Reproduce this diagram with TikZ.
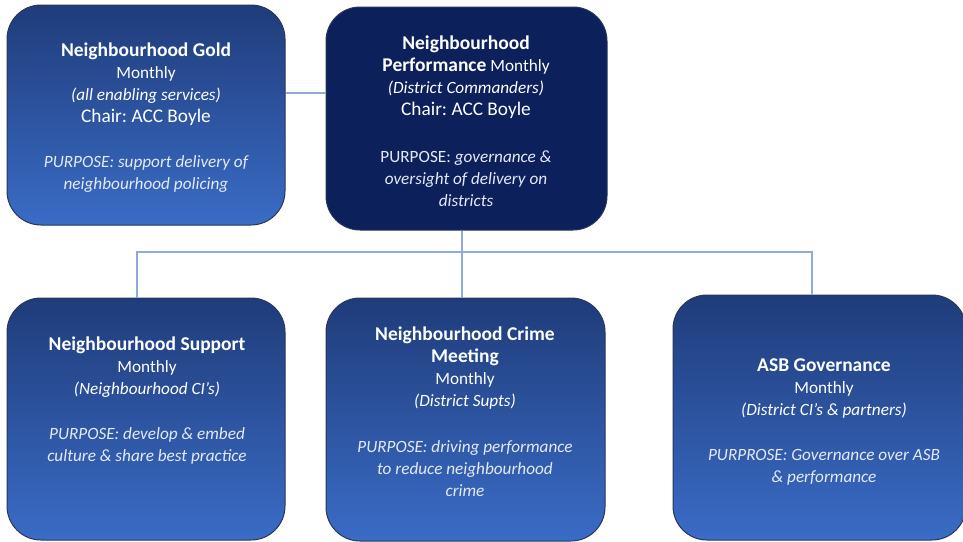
\documentclass[tikz,border=0pt]{standalone}
\usepackage{fontspec}
\setmainfont{Carlito}
\frenchspacing
\definecolor{boxtop}{RGB}{31,60,122}
\definecolor{boxbot}{RGB}{58,108,198}
\definecolor{navy}{RGB}{12,32,92}
\definecolor{edge}{RGB}{40,55,90}
\definecolor{connc}{RGB}{143,170,220}
\definecolor{soft}{RGB}{228,233,243}
\tikzset{
 boxbase/.style={draw=edge, line width=1pt, rounded corners=34pt, inner sep=0pt},
 gradbox/.style={boxbase, top color=boxtop, bottom color=boxbot},
 navybox/.style={boxbase, fill=navy},
 boxtext/.style={text=white, align=center, inner sep=0pt, font=\fontsize{17.2}{22}\selectfont},
 conn/.style={draw=connc, line width=1.2pt},
}
\newcommand{\ttlf}{\bfseries\fontsize{19.5}{22}\selectfont}
\newcommand{\chairf}{\fontsize{19.3}{22}\selectfont}
\newcommand{\purp}{\color{soft}\itshape}
\begin{document}
\begin{tikzpicture}[x=1pt,y=-1pt]
\useasboundingbox (0,0) rectangle (963,541);
\fill[white] (0,0) rectangle (963,541);
% boxes
\node[gradbox, minimum width=278pt, minimum height=220pt] (gold) at (146,115) {};
\node[navybox, minimum width=281pt, minimum height=223pt] (perf) at (466.5,118.5) {};
\node[gradbox, minimum width=278pt, minimum height=242pt] (support) at (146,419) {};
\node[gradbox, minimum width=279pt, minimum height=243pt] (crime) at (465.5,419.5) {};
\node[gradbox, minimum width=293pt, minimum height=245pt] (asb) at (819.5,417.5) {};
% connectors
\coordinate (hub) at (462,252);
\draw[conn] ([yshift=22pt]gold.east) -- ([yshift=22pt]gold.east -| perf.west);
\draw[conn] (perf.south -| hub) -- (hub);
\draw[conn] (hub) -| ([xshift=-9pt]support.north);
\draw[conn] (hub) -- (hub |- crime.north);
\draw[conn] (hub) -| ([xshift=-7.5pt]asb.north);
% texts
\node[boxtext] (goldT) at (146,117.5) {{\ttlf Neighbourhood Gold}\\ Monthly\\ \textit{(all enabling services)}\\ {\chairf Chair: ACC Boyle}\\[23pt] {\purp PURPOSE: support delivery of}\\ {\purp neighbourhood policing}};
\node[boxtext] (perfT) at (466,121) {{\ttlf Neighbourhood}\\ {\ttlf Performance} Monthly\\ \textit{(District Commanders)}\\ {\chairf Chair: ACC Boyle}\\[25pt] {\color{soft}PURPOSE: \textit{governance \&}}\\ {\purp oversight of delivery on}\\ {\purp districts}};
\node[boxtext] (supportT) at (147,401) {{\ttlf Neighbourhood Support}\\ Monthly\\ \textit{(Neighbourhood CI’s)}\\[23pt] {\purp PURPOSE: develop \& embed}\\ {\purp culture \& share best practice}};
\node[boxtext] (crimeT) at (465,412) {{\ttlf Neighbourhood Crime}\\ {\ttlf Meeting}\\ Monthly\\ \textit{(District Supts)}\\[24pt] {\purp PURPOSE: driving performance}\\ {\purp to reduce neighbourhood}\\ {\purp crime}};
\node[boxtext] (asbT) at (824,422) {{\ttlf ASB Governance}\\ Monthly\\ \textit{(District CI’s \& partners)}\\[23pt] {\purp PURPROSE: Governance over ASB}\\ {\purp \& performance}};
\end{tikzpicture}
\end{document}
